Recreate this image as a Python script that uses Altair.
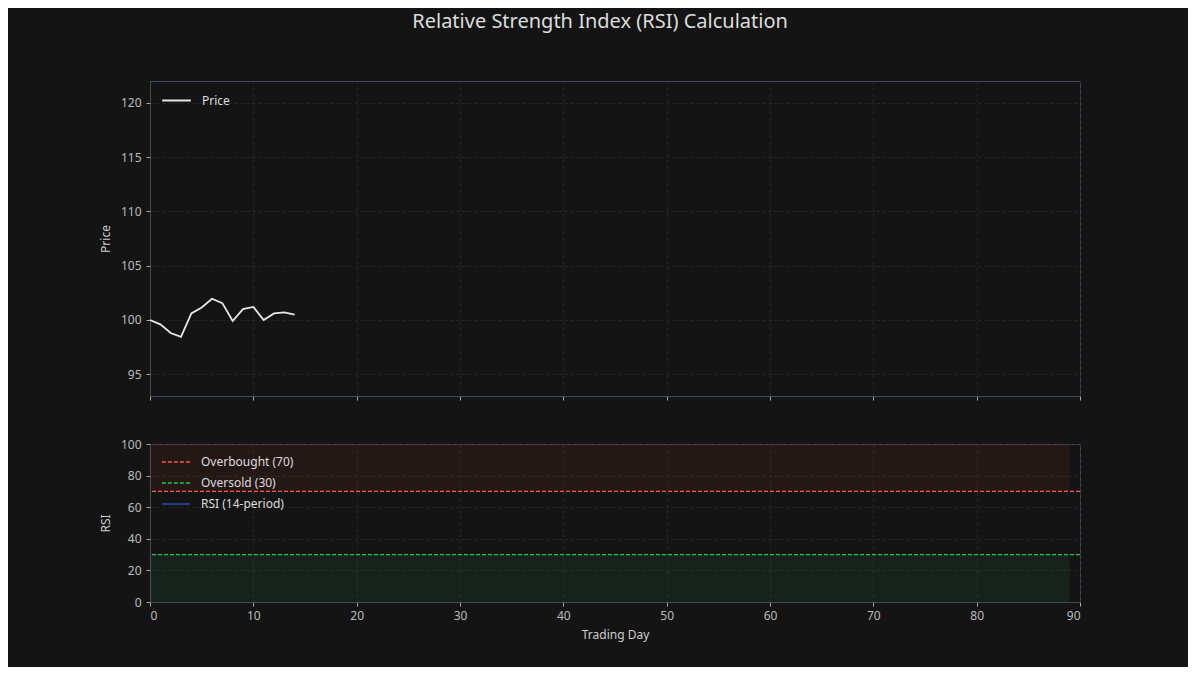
import altair as alt
import pandas as pd

# ---- data ----
days = [0, 1, 2, 3, 4, 5, 6, 7, 8, 9, 10, 11, 12, 13, 14]
prices = [100.0, 99.6, 98.8, 98.45, 100.6, 101.15, 101.95, 101.55, 99.9,
          101.0, 101.2, 100.0, 100.6, 100.7, 100.5]
rsi_values = [None, None, None, None, None, None, None, None, None,
              None, None, None, None, None, None]
level_names = ["Overbought (70)", "Oversold (30)"]
level_values = [70, 30]
band_lo = [70, 0]
band_hi = [100, 30]
band_start = [0, 0]
band_end = [89, 89]
band_colors = ["#e74c3c", "#2ecc71"]
series_names = ["Overbought (70)", "Oversold (30)", "RSI (14-period)"]
series_colors = ["#ff5747", "#22c84a", "#2b4fb3"]
x_ticks = [0, 10, 20, 30, 40, 50, 60, 70, 80, 90]
price_ticks = [95, 100, 105, 110, 115, 120]
rsi_ticks = [0, 20, 40, 60, 80, 100]

FONT = "Noto Sans"
W = 930

price_df = pd.DataFrame({"day": days, "price": prices, "pseries": ["Price"] * len(days)})
rsi_df = pd.DataFrame({"day": days, "rsi": rsi_values,
                       "series": ["RSI (14-period)"] * len(days)})
lvl_df = pd.DataFrame({"series": level_names, "level": level_values})
band_df = pd.DataFrame({"x": band_start, "x2": band_end, "y": band_lo,
                        "y2": band_hi, "c": band_colors})

xscale = alt.Scale(domain=[0, 90], nice=False, zero=False)
rsi_scale = alt.Scale(domain=[0, 100], nice=False)
rsi_axis = alt.Axis(values=rsi_ticks, title="RSI")
x_axis_b = alt.Axis(values=x_ticks, title="Trading Day", format="d", labelPadding=4)

top = alt.Chart(price_df).mark_line(strokeWidth=1.8).encode(
    x=alt.X("day:Q", scale=xscale,
            axis=alt.Axis(values=x_ticks, labels=False, title=None)),
    y=alt.Y("price:Q", scale=alt.Scale(domain=[93, 122], nice=False, zero=False),
            axis=alt.Axis(values=price_ticks, title="Price")),
    color=alt.Color("pseries:N",
                    scale=alt.Scale(domain=["Price"], range=["#e8e8e8"]),
                    legend=alt.Legend(title=None, orient="none", legendX=11, legendY=4,
                                      symbolType="stroke", symbolStrokeWidth=2,
                                      symbolSize=820, labelFontSize=12,
                                      labelColor="#dddddd", labelFont=FONT,
                                      labelOffset=10)),
).properties(width=W, height=315)

bands = alt.Chart(band_df).mark_rect(opacity=0.08).encode(
    x=alt.X("x:Q", scale=xscale, axis=x_axis_b),
    x2="x2:Q",
    y=alt.Y("y:Q", scale=rsi_scale, axis=rsi_axis),
    y2="y2:Q",
    fill=alt.Fill("c:N", scale=None),
)

leg = alt.Legend(title=None, orient="none", legendX=11, legendY=3,
                 symbolType="stroke", symbolSize=800,
                 labelFontSize=12, labelColor="#dddddd", labelFont=FONT,
                 labelOffset=10, rowPadding=-4)
cscale = alt.Scale(domain=series_names, range=series_colors)
dscale = alt.Scale(domain=series_names, range=[[4, 2], [4, 2], [1, 0]])
wscale = alt.Scale(domain=series_names, range=[1.4, 1.4, 3])

rules = alt.Chart(lvl_df).mark_rule().encode(
    y=alt.Y("level:Q", scale=rsi_scale, axis=rsi_axis),
    color=alt.Color("series:N", scale=cscale, legend=leg),
    strokeDash=alt.StrokeDash("series:N", scale=dscale, legend=leg),
    strokeWidth=alt.StrokeWidth("series:N", scale=wscale, legend=leg),
)

rsi_line = alt.Chart(rsi_df).mark_line().encode(
    x=alt.X("day:Q", scale=xscale, axis=x_axis_b),
    y=alt.Y("rsi:Q", scale=rsi_scale, axis=rsi_axis),
    color=alt.Color("series:N", scale=cscale, legend=leg),
    strokeDash=alt.StrokeDash("series:N", scale=dscale, legend=leg),
    strokeWidth=alt.StrokeWidth("series:N", scale=wscale, legend=leg),
)

bottom = alt.layer(bands, rules, rsi_line).properties(width=W, height=158)

chart = alt.vconcat(top, bottom, spacing=36).resolve_scale(
    color="independent", strokeDash="independent", strokeWidth="independent"
).resolve_legend(
    color="independent", strokeDash="independent", strokeWidth="independent"
).properties(
    background="#141414",
    padding={"left": 90, "top": 3, "right": 106, "bottom": 26},
    title=alt.Title("Relative Strength Index (RSI) Calculation", fontSize=20,
                    font=FONT, color="#dddddd", fontWeight="normal",
                    anchor="middle", offset=49, dx=10),
).configure_axis(
    gridColor="#2c2c2c", gridDash=[3, 3], gridWidth=0.8,
    domainColor="#46485c", tickColor="#aaaaaa", tickSize=4,
    labelColor="#bbbbbb", labelFont=FONT, labelFontSize=12, labelPadding=5,
    titleColor="#cccccc", titleFont=FONT, titleFontSize=12,
    titleFontWeight="normal", titlePadding=8,
).configure_view(stroke="#46485c", strokeWidth=1)

chart.save("out.html", embed_options={"renderer": "svg", "actions": False})
